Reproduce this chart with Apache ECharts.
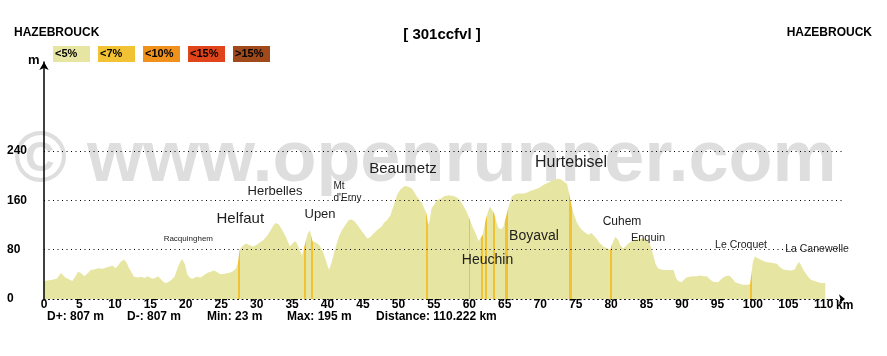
<!DOCTYPE html>
<html><head><meta charset="utf-8">
<script src="https://cdn.jsdelivr.net/npm/echarts@6/dist/echarts.min.js"></script>
<style>html,body{margin:0;padding:0;background:#fff}#c{width:887px;height:356px}</style>
</head><body><div id="c"></div>
<script>
// ---------- data ----------
const distKm = [0.0,0.5,1.2,1.8,2.4,3.0,3.5,4.0,4.4,4.8,5.2,5.7,6.2,6.6,7.1,7.6,8.3,9.0,9.7,10.1,10.5,10.8,11.3,11.7,12.0,12.4,12.7,13.2,13.7,14.2,14.6,15.3,15.7,16.1,16.5,16.9,17.3,17.6,18.0,18.4,18.9,19.2,19.5,19.9,20.2,20.6,21.0,21.5,22.1,22.5,23.0,23.5,24.0,24.5,24.9,25.5,26.3,26.8,27.1,27.35,27.6,28.0,28.5,29.0,29.5,29.9,30.4,31.0,31.5,32.0,32.4,32.7,33.1,33.5,34.1,34.7,35.3,35.6,36.0,36.4,36.65,36.9,37.2,37.5,37.65,37.9,38.3,38.8,39.3,39.7,40.2,40.6,40.9,41.3,41.6,42.0,42.5,43.0,43.4,43.8,44.4,44.9,45.6,46.0,46.5,47.0,47.6,48.0,48.4,48.9,49.1,49.5,49.8,50.3,50.9,51.4,51.9,52.4,52.6,53.0,53.3,53.7,53.95,54.2,54.4,54.7,55.0,55.4,55.9,56.5,57.1,57.8,58.3,58.7,59.2,59.6,60.1,60.5,60.9,61.3,61.5,61.9,62.3,62.6,62.9,63.1,63.5,63.8,64.1,64.5,64.8,65.1,65.5,66.0,66.5,67.0,67.6,68.1,68.6,69.1,69.8,70.5,71.2,71.9,72.5,72.9,73.4,73.8,74.1,74.45,74.7,75.2,75.6,75.9,76.4,76.8,77.2,77.4,77.8,78.3,78.9,79.5,79.9,80.1,80.6,81.0,81.3,81.7,82.1,82.4,83.0,83.4,84.3,85.0,85.3,85.6,86.0,86.3,86.7,87.4,88.0,88.8,89.2,89.5,89.9,90.3,90.6,91.1,91.6,92.1,92.5,93.0,93.5,94.0,94.4,95.1,95.6,96.0,96.5,96.8,97.2,97.5,98.0,98.6,99.2,99.6,99.8,100.0,100.3,100.7,101.2,101.8,102.4,103.0,103.4,103.8,104.3,104.7,105.4,105.9,106.2,106.5,106.8,107.1,107.5,107.8,108.2,108.7,109.2,109.7,110.222];
const elevM = [29,30,31,33,42,35,32,29,36,44,42,37,42,47,48,50,49,52,54,50,55,60,64,58,50,42,36,35,36,34,37,33,34,37,32,27,26,28,31,36,52,60,65,56,40,34,33,36,35,38,42,44,46,43,40,41,43,46,50,58,80,86,90,87,85,87,91,96,103,112,120,123,121,114,101,85,93,92,82,70,69,93,106,111,109,93,92,88,78,65,47,60,74,90,101,111,120,128,129,126,117,109,98,100,106,112,117,124,128,136,144,157,169,178,183,182,179,170,166,160,156,145,139,120,127,148,152,160,162,167,168,167,164,160,150,142,128,116,106,94,94,104,128,140,150,149,139,126,115,113,117,130,148,166,170,171,171,172,175,177,180,185,189,193,195,194,190,186,170,150,139,123,116,112,107,104,107,109,100,92,85,82,80,88,101,96,87,82,86,90,94,96,98,97,93,85,69,56,49,47,47,47,33,29,27,31,35,36,37,37,38,37,37,31,28,27,33,36,38,37,32,27,25,23,23,24,40,60,69,66,63,60,59,58,57,52,48,47,46,48,55,60,55,48,41,36,31,29,27,26,26];
// km ranges whose grade falls in the "<7%" class
const steepSegments = [[27.35,27.6],[36.65,36.9],[37.65,37.9],[53.95,54.2],[60.0,60.15],[61.7,61.9],[62.2,62.45],[63.4,63.65],[65.1,65.5],[74.1,74.45],[79.85,80.1],[99.65,99.95]];
const gradeClasses = ['<5%','<7%','<10%','<15%','>15%'];
const gradeColors = ['#e6e5a1','#f0c234','#f0911c','#e0441a','#a04a1c'];
const yTicks = [0,80,160,240];
const gridLevels = [80,160,240];
const places = [
  {name:'Racquinghem', km:20.36, alt:98.3},
  {name:'Helfaut', km:27.69, alt:129.1},
  {name:'Herbelles', km:32.59, alt:173.9},
  {name:"Mt\nd'Erny", km:40.84, alt:173.4},
  {name:'Upen', km:38.94, alt:137.7},
  {name:'Beaumetz', km:50.65, alt:210.6},
  {name:'Hurtebisel', km:74.35, alt:220.4},
  {name:'Heuchin', km:62.57, alt:63.2},
  {name:'Boyaval', km:69.13, alt:102.1},
  {name:'Cuhem', km:81.54, alt:125.2},
  {name:'Enquin', km:85.21, alt:98.3},
  {name:'Le Croquet', km:98.33, alt:87.5},
  {name:'La Canewelle', km:109.05, alt:81.0}
];
const stats = ['D+: 807 m','D-: 807 m','Min: 23 m','Max: 195 m','Distance: 110.222 km'];
const routeTitle = '[ 301ccfvl ]';
const startTown = 'HAZEBROUCK';
const endTown = 'HAZEBROUCK';
const watermarkText = '\u00A9 www.openrunner.com';

// ---------- styles ----------
const FONT = '"Liberation Sans", Arial, Helvetica, sans-serif';
const placeFontSize = {'Racquinghem':8,'Helfaut':15,'Herbelles':13,"Mt\nd'Erny":10,'Upen':13,'Beaumetz':15,'Hurtebisel':16,'Heuchin':14,'Boyaval':14,'Cuhem':12,'Enquin':11,'Le Croquet':10.5,'La Canewelle':10.5};
const placeAlign = {"Mt\nd'Erny":'left'};
const statX = [47,127,207,287,376];

function buildPieces(){
  const out = []; let prev = -5;
  steepSegments.forEach(([a,b]) => {
    out.push({gte:prev, lt:a, color:gradeColors[0]});
    out.push({gte:a, lt:b, color:gradeColors[1]});
    prev = b;
  });
  out.push({gte:prev, lte:200, color:gradeColors[0]});
  return out;
}

const profile = distKm.map((d,i) => [d, elevM[i]]);

const chart = echarts.init(document.getElementById('c'), null, {renderer:'canvas'});

const staticGraphics = [];
staticGraphics.push({type:'text', x:14, y:161, z:0, silent:true,
  style:{text:watermarkText, font:'bold 72px ' + FONT, fill:'#dedede', verticalAlign:'middle'}});
staticGraphics.push({type:'text', x:14, y:33, z:10,
  style:{text:startTown, font:'bold 12px ' + FONT, fill:'#000', verticalAlign:'middle', letterSpacing:0.7}});
staticGraphics.push({type:'text', x:872, y:33, z:10,
  style:{text:endTown, font:'bold 12px ' + FONT, fill:'#000', verticalAlign:'middle', align:'right', letterSpacing:0.7}});
staticGraphics.push({type:'text', x:442, y:35, z:10,
  style:{text:routeTitle, font:'bold 15px ' + FONT, fill:'#000', verticalAlign:'middle', align:'center', letterSpacing:0.5}});
staticGraphics.push({type:'text', x:28, y:60, z:10,
  style:{text:'m', font:'bold 13px ' + FONT, fill:'#000', verticalAlign:'middle'}});
staticGraphics.push({type:'text', x:836, y:306, z:10,
  style:{text:'km', font:'bold 12px ' + FONT, fill:'#000', verticalAlign:'middle'}});
gradeClasses.forEach((g,i) => {
  staticGraphics.push({type:'rect', z:10, shape:{x:53 + 45*i, y:46, width:37, height:16}, style:{fill:gradeColors[i]}});
  staticGraphics.push({type:'text', z:11, x:55 + 45*i, y:54, style:{text:g, font:'bold 11px ' + FONT, fill:'#000', verticalAlign:'middle'}});
});
stats.forEach((s,i) => {
  staticGraphics.push({type:'text', z:10, x:statX[i], y:316.5, style:{text:s, font:'bold 12px ' + FONT, fill:'#000', verticalAlign:'middle'}});
});

chart.setOption({
  animation:false,
  backgroundColor:'#fff',
  grid:{left:44, right:42, top:62, bottom:57},
  xAxis:{type:'value', min:0, max:113, interval:5,
    axisLine:{show:true, onZero:false, symbol:['none','arrow'], symbolSize:[7,6], lineStyle:{color:'#000', width:1, type:[1,3.5]}},
    axisTick:{show:false}, splitLine:{show:false},
    axisLabel:{margin:0, showMaxLabel:false, color:'#000', fontFamily:FONT, fontWeight:'bold', fontSize:12,
      formatter:v => (v % 5 === 0 && v <= 110) ? String(v) : ''}},
  yAxis:[
    {type:'value', min:0, max:384, interval:80,
      axisLine:{show:false}, axisTick:{show:false}, splitLine:{show:false},
      axisLabel:{align:'left', margin:37, padding:[0,0,9,0], color:'#000', fontFamily:FONT, fontWeight:'bold', fontSize:12,
        formatter:v => yTicks.includes(v) ? String(v) : ''}},
    {type:'value', min:0, max:384, position:'left', z:5,
      axisLine:{show:true, onZero:false, symbol:['none','arrow'], symbolSize:[7,8], lineStyle:{color:'#000', width:1.5}},
      axisTick:{show:false}, axisLabel:{show:false}, splitLine:{show:false}}
  ],
  visualMap:{show:false, type:'piecewise', seriesIndex:1, dimension:0, pieces:buildPieces()},
  series:[
    {type:'line', z:1, data:[], silent:true,
      markLine:{silent:true, symbol:['none','none'], label:{show:false},
        lineStyle:{color:'#000', width:1, type:[1,3.5]},
        data:gridLevels.map(v => ({yAxis:v}))}},
    {type:'line', z:2, data:profile, showSymbol:false, symbol:'none', silent:true,
      lineStyle:{width:0, opacity:0}, areaStyle:{opacity:1}}
  ],
  graphic:staticGraphics
});

const placeGraphics = places.map(p => {
  const pt = chart.convertToPixel({xAxisIndex:0, yAxisIndex:0}, [p.km, p.alt]);
  const fs = placeFontSize[p.name] || 11;
  return {type:'text', z:12, x:pt[0], y:pt[1], silent:true,
    style:{text:p.name, font: fs + 'px ' + FONT, fill:'#1e1e1e', align:placeAlign[p.name] || 'center', verticalAlign:'middle', lineHeight:12}};
});
chart.setOption({graphic:staticGraphics.concat(placeGraphics)});
</script>
</body></html>
